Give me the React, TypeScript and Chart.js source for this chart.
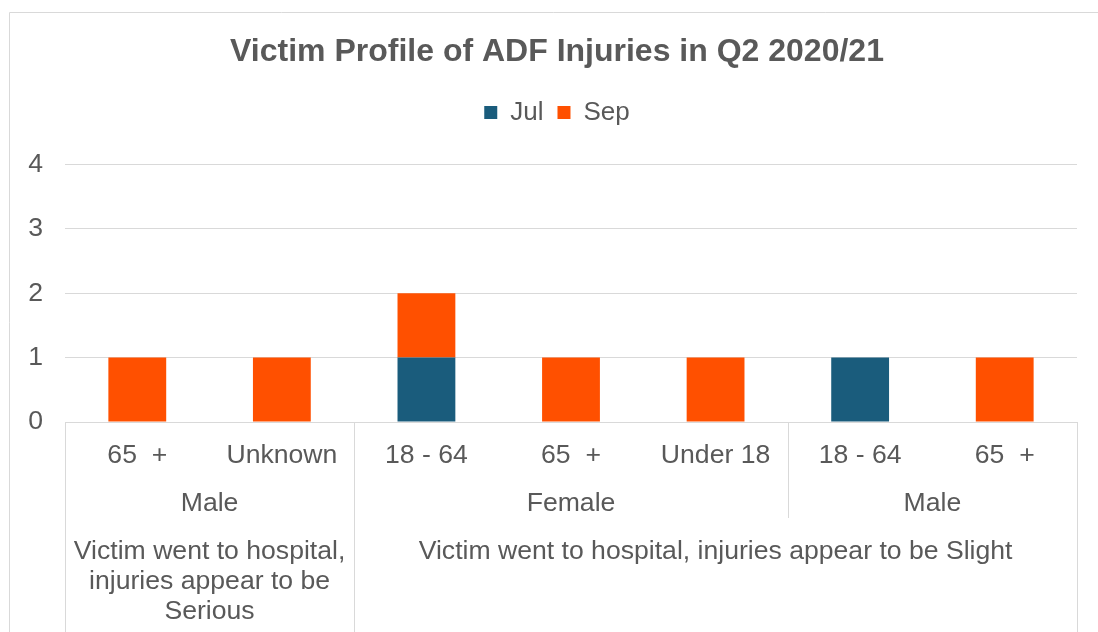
import React, { useEffect, useRef } from "react";
import { Chart, registerables } from "chart.js";

Chart.register(...registerables);

const title = "Victim Profile of ADF Injuries in Q2 2020/21";
const ageLabels = ["65  +", "Unknown", "18 - 64", "65  +", "Under 18", "18 - 64", "65  +"];
const julValues = [0, 0, 1, 0, 0, 1, 0];
const sepValues = [1, 1, 1, 1, 1, 0, 1];
const genderLabels = ["Male", "Female", "Male"];
const genderSpans = [2, 3, 2];
const severityLabels = [
  ["Victim went to hospital,", "injuries appear to be", "Serious"],
  ["Victim went to hospital, injuries appear to be Slight"],
];
const severitySpans = [2, 5];
const yTicks = [0, 1, 2, 3, 4];

const TEXT = "#595959";
const GRID = "#d9d9d9";
const FONT = "'Liberation Sans', Arial, sans-serif";
const FS = 26.6;

const multiLevelPlugin = {
  id: "multiLevel",
  beforeDraw(chart: any) {
    const ctx = chart.ctx;
    ctx.save();
    ctx.strokeStyle = GRID;
    ctx.lineWidth = 1;
    ctx.beginPath();
    ctx.moveTo(9.5, chart.height);
    ctx.lineTo(9.5, 12.5);
    ctx.lineTo(chart.width, 12.5);
    ctx.stroke();
    ctx.restore();
  },
  afterDraw(chart: any) {
    const ctx = chart.ctx;
    const x = chart.scales.x;
    const top = chart.chartArea.bottom;
    const bottom = chart.height;
    const genderBottom = top + 96;
    ctx.save();
    ctx.fillStyle = TEXT;
    ctx.textAlign = "center";
    ctx.textBaseline = "middle";
    ctx.font = `${FS}px ${FONT}`;
    ageLabels.forEach((lab, i) => {
      ctx.fillText(lab, x.getPixelForValue(i), top + 34);
    });
    const edge = (v: number) => Math.round(x.getPixelForValue(v - 0.5)) + 0.5;
    const sevBounds = new Set<number>();
    let s = 0;
    sevBounds.add(0);
    severitySpans.forEach((sp) => {
      s += sp;
      sevBounds.add(s);
    });
    ctx.strokeStyle = GRID;
    ctx.lineWidth = 1;
    let idx = 0;
    genderLabels.forEach((lab, g) => {
      const start = idx;
      const end = idx + genderSpans[g];
      const cx = (x.getPixelForValue(start - 0.5) + x.getPixelForValue(end - 0.5)) / 2;
      ctx.fillText(lab, cx, top + 82);
      if (!sevBounds.has(end)) {
        const px = edge(end);
        ctx.beginPath();
        ctx.moveTo(px, top);
        ctx.lineTo(px, genderBottom);
        ctx.stroke();
      }
      idx = end;
    });
    idx = 0;
    severityLabels.forEach((lines, g) => {
      const start = idx;
      const end = idx + severitySpans[g];
      const cx = (x.getPixelForValue(start - 0.5) + x.getPixelForValue(end - 0.5)) / 2;
      lines.forEach((ln, k) => {
        ctx.fillText(ln, cx, top + 130 + k * 30);
      });
      idx = end;
    });
    sevBounds.forEach((b) => {
      const px = edge(b);
      ctx.beginPath();
      ctx.moveTo(px, top);
      ctx.lineTo(px, bottom);
      ctx.stroke();
    });
    ctx.restore();
  },
};

export default function App() {
  const ref = useRef<HTMLCanvasElement>(null);
  useEffect(() => {
    document.body.style.margin = "0";
    const chart = new Chart(ref.current!, {
      type: "bar",
      data: {
        labels: ageLabels,
        datasets: [
          {
            label: "Jul",
            data: julValues,
            backgroundColor: "#1a5c7c",
            borderWidth: 0,
          },
          {
            label: "Sep",
            data: sepValues,
            backgroundColor: "#ff5000",
            borderWidth: 0,
          },
        ],
      },
      options: {
        responsive: false,
        animation: false,
        maintainAspectRatio: false,
        layout: { padding: { left: 9, right: -7, top: 0, bottom: 0 } },
        plugins: {
          title: {
            display: true,
            text: title,
            color: TEXT,
            font: { family: FONT, size: 32, weight: "bold" },
            padding: { top: 33, bottom: 14 },
          },
          subtitle: {
            display: true,
            text: "",
            weight: 500,
            font: { size: 10 },
            padding: { top: 0, bottom: 17 },
          },
          legend: {
            display: true,
            position: "top",
            labels: {
              color: TEXT,
              font: { family: FONT, size: 26 },
              boxWidth: 13,
              boxHeight: 13,
              padding: 14,
            },
          },
          tooltip: { enabled: false },
        },
        scales: {
          x: {
            stacked: true,
            grid: { display: false },
            border: { display: false },
            ticks: { display: false },
            afterFit: (scale: any) => {
              scale.height = 210;
            },
          },
          y: {
            stacked: true,
            min: 0,
            max: 4,
            afterBuildTicks: (scale: any) => {
              scale.ticks = yTicks.map((v) => ({ value: v }));
            },
            grid: { color: GRID, lineWidth: 1, drawTicks: false },
            border: { display: false },
            ticks: {
              color: TEXT,
              font: { family: FONT, size: FS },
              padding: 22,
            },
            afterFit: (scale: any) => {
              scale.width = 56;
            },
          },
          ySpacer: {
            type: "linear",
            position: "right",
            display: true,
            grid: { display: false },
            border: { display: false },
            ticks: { display: false },
            afterFit: (scale: any) => {
              scale.width = 28;
            },
          },
        },
        datasets: {
          bar: { categoryPercentage: 1, barPercentage: 0.4 },
        },
      } as any,
      plugins: [multiLevelPlugin],
    });
    return () => chart.destroy();
  }, []);
  return (
    <div style={{ width: 1098, height: 632, position: "absolute", left: 0, top: 0 }}>
      <canvas ref={ref} width={1098} height={632} style={{ display: "block" }} />
    </div>
  );
}
